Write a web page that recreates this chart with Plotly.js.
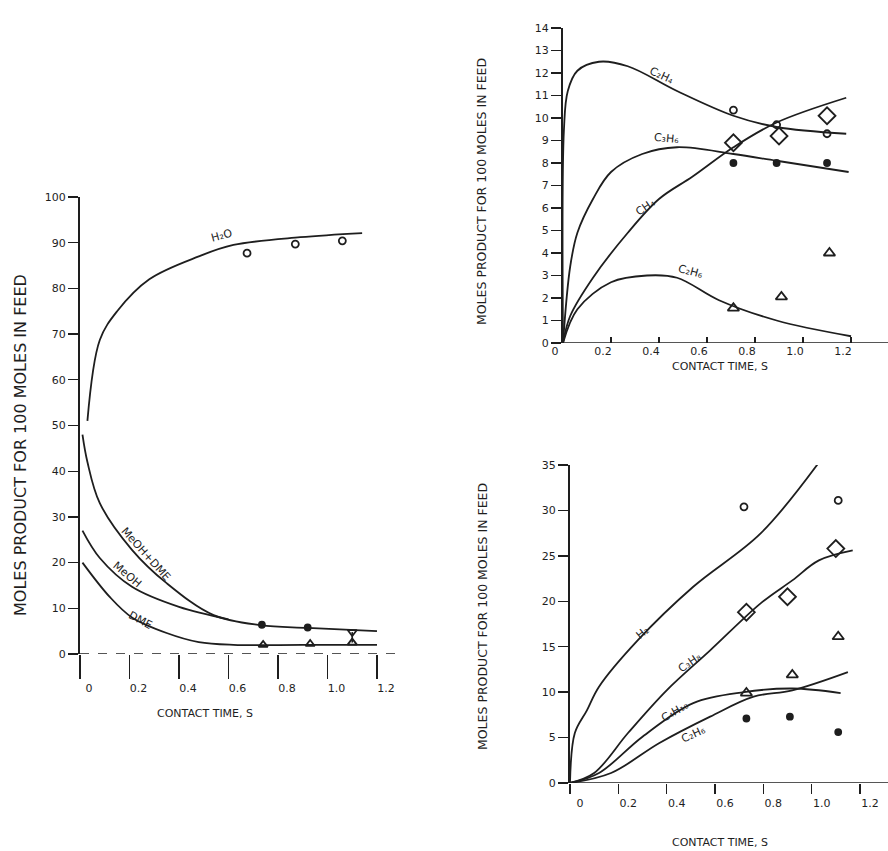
<!DOCTYPE html>
<html>
<head>
<meta charset="utf-8">
<script src="https://cdn.plot.ly/plotly-3.0.1.min.js"></script>
<style>html,body{margin:0;padding:0;background:#fff;}#chart{width:888px;height:851px;}</style>
</head>
<body>
<div id="chart"></div>
<script>
// ---------- Left panel: methanol conversion ----------
const h2oX = [0.03, 0.08, 0.15, 0.28, 0.48, 0.62, 0.89, 1.14];
const h2oY = [51, 68.7, 75, 82, 87, 89.5, 91.2, 92.1];
const h2oPtsX = [0.675, 0.87, 1.06];
const h2oPtsY = [87.7, 89.7, 90.4];

const meohDmeX = [0.01, 0.03, 0.08, 0.21, 0.35, 0.54, 0.73, 0.92, 1.2];
const meohDmeY = [48, 42, 33, 22.8, 15.5, 8.5, 6.3, 5.7, 5.0];
const meohX = [0.01, 0.08, 0.21, 0.40, 0.60];
const meohY = [27, 21, 14.7, 10.3, 7.6];
const dmeX = [0.01, 0.12, 0.21, 0.35, 0.48, 0.62, 0.9, 1.2];
const dmeY = [20, 12.5, 8.0, 4.6, 2.6, 2.0, 2.0, 2.0];
const meohPtsX = [0.735, 0.92];
const meohPtsY = [6.4, 5.8];
const dmePtsX = [0.74, 0.93, 1.1];
const dmePtsY = [2.0, 2.2, 2.5];
const meohDmeTriX = [1.1];
const meohDmeTriY = [4.8];

// ---------- Top-right panel ----------
const c2h4X = [0.0, 0.004, 0.02, 0.06, 0.15, 0.27, 0.475, 0.71, 0.89, 1.18];
const c2h4Y = [0.0, 9.5, 11.2, 12.1, 12.5, 12.3, 11.2, 10.1, 9.6, 9.3];
const c2h4PtsX = [0.71, 0.89, 1.1];
const c2h4PtsY = [10.35, 9.7, 9.3];

const c3h6X = [0.0, 0.03, 0.06, 0.125, 0.2, 0.33, 0.475, 0.71, 0.89, 1.19];
const c3h6Y = [0.0, 3.4, 4.9, 6.4, 7.6, 8.4, 8.7, 8.4, 8.1, 7.6];
const c3h6PtsX = [0.71, 0.89, 1.1];
const c3h6PtsY = [8.0, 8.0, 8.0];

const ch4X = [0.0, 0.03, 0.125, 0.27, 0.4, 0.54, 0.71, 0.89, 1.18];
const ch4Y = [0.0, 1.2, 2.9, 4.9, 6.4, 7.4, 8.7, 9.8, 10.9];
const ch4PtsX = [0.71, 0.9, 1.1];
const ch4PtsY = [8.9, 9.2, 10.1];

const c2h6X = [0.0, 0.06, 0.2, 0.35, 0.475, 0.65, 0.89, 1.2];
const c2h6Y = [0.0, 1.5, 2.7, 3.0, 2.9, 1.9, 1.0, 0.3];
const c2h6PtsX = [0.71, 0.91, 1.11];
const c2h6PtsY = [1.55, 2.05, 4.0];

// ---------- Bottom-right panel ----------
const h2X = [0.0, 0.02, 0.07, 0.12, 0.28, 0.51, 0.79, 1.05];
const h2Y = [0.0, 5.5, 8.0, 10.6, 15.7, 21.6, 27.5, 36.0];
const h2PtsX = [0.72, 0.9, 1.11];
const h2PtsY = [30.4, 35.5, 31.1];

const c3h8X = [0.0, 0.1, 0.24, 0.4, 0.58, 0.79, 0.92, 1.03, 1.17];
const c3h8Y = [0.0, 1.1, 5.5, 10.2, 14.6, 19.8, 22.3, 24.5, 25.6];
const c3h8PtsX = [0.73, 0.9, 1.1];
const c3h8PtsY = [18.8, 20.5, 25.8];

const c4h10X = [0.0, 0.12, 0.3, 0.51, 0.72, 0.92, 1.12];
const c4h10Y = [0.0, 1.1, 5.1, 8.8, 10.0, 10.4, 9.9];
const c4h10PtsX = [0.73, 0.92, 1.11];
const c4h10PtsY = [9.9, 11.9, 16.1];

const c2h6bX = [0.0, 0.17, 0.37, 0.58, 0.76, 0.92, 1.15];
const c2h6bY = [0.0, 1.1, 4.4, 7.3, 9.5, 10.2, 12.2];
const c2h6bPtsX = [0.73, 0.91, 1.11];
const c2h6bPtsY = [7.1, 7.3, 5.6];

// tick labels
const timeTicks = [0, 0.2, 0.4, 0.6, 0.8, 1.0, 1.2];
const timeTickText = ['0', '0.2', '0.4', '0.6', '0.8', '1.0', '1.2'];
const leftYTicks = [0, 10, 20, 30, 40, 50, 60, 70, 80, 90, 100];
const trYTicks = [0, 1, 2, 3, 4, 5, 6, 7, 8, 9, 10, 11, 12, 13, 14];
const brYTicks = [0, 5, 10, 15, 20, 25, 30, 35];

const INK = '#1e1e1e';
const W = 888, H = 851;
function line(x, y, xa, ya) {
  return {x: x, y: y, xaxis: xa, yaxis: ya, mode: 'lines', type: 'scatter',
          line: {color: INK, width: 1.8, shape: 'spline', smoothing: 1.0},
          hoverinfo: 'skip', showlegend: false};
}
function pts(x, y, xa, ya, sym, size) {
  return {x: x, y: y, xaxis: xa, yaxis: ya, mode: 'markers', type: 'scatter',
          marker: {symbol: sym, size: size || 8, color: INK, line: {color: INK, width: 1.8}},
          hoverinfo: 'skip', showlegend: false};
}

const data = [
  line(h2oX, h2oY, 'x', 'y'),
  line(meohDmeX, meohDmeY, 'x', 'y'),
  line(meohX, meohY, 'x', 'y'),
  line(dmeX, dmeY, 'x', 'y'),
  pts(h2oPtsX, h2oPtsY, 'x', 'y', 'circle-open', 7),
  pts(meohPtsX, meohPtsY, 'x', 'y', 'circle', 6),
  pts(dmePtsX, dmePtsY, 'x', 'y', 'triangle-up-open', 8),
  pts(meohDmeTriX, meohDmeTriY, 'x', 'y', 'triangle-down-open', 8),

  line(c2h4X, c2h4Y, 'x2', 'y2'),
  line(c3h6X, c3h6Y, 'x2', 'y2'),
  line(ch4X, ch4Y, 'x2', 'y2'),
  line(c2h6X, c2h6Y, 'x2', 'y2'),
  pts(c2h4PtsX, c2h4PtsY, 'x2', 'y2', 'circle-open', 7),
  pts(c3h6PtsX, c3h6PtsY, 'x2', 'y2', 'circle', 6),
  pts(ch4PtsX, ch4PtsY, 'x2', 'y2', 'diamond-open', 13),
  pts(c2h6PtsX, c2h6PtsY, 'x2', 'y2', 'triangle-up-open', 10),

  line(h2X, h2Y, 'x3', 'y3'),
  line(c3h8X, c3h8Y, 'x3', 'y3'),
  line(c4h10X, c4h10Y, 'x3', 'y3'),
  line(c2h6bX, c2h6bY, 'x3', 'y3'),
  pts(h2PtsX, h2PtsY, 'x3', 'y3', 'circle-open', 7),
  pts(c3h8PtsX, c3h8PtsY, 'x3', 'y3', 'diamond-open', 13),
  pts(c4h10PtsX, c4h10PtsY, 'x3', 'y3', 'triangle-up-open', 10),
  pts(c2h6bPtsX, c2h6bPtsY, 'x3', 'y3', 'circle', 6)
];

const FONT = {family: 'DejaVu Sans, sans-serif', size: 11, color: INK};
function xAx(dom, rng, ticks, len, shift, anchor) {
  return {domain: dom, range: rng, anchor: anchor, tickvals: timeTicks, ticktext: timeTickText,
          ticks: ticks, ticklen: len, tickwidth: 1.3, tickcolor: INK,
          ticklabelshift: shift, showline: false, showgrid: false, zeroline: false,
          tickfont: FONT, fixedrange: true};
}
function yAx(dom, rng, vals, anchor) {
  return {domain: dom, range: rng, anchor: anchor, tickvals: vals,
          ticks: 'outside', ticklen: 10, tickwidth: 1.3, tickcolor: INK,
          showline: true, linecolor: INK, linewidth: 2, showgrid: false, zeroline: false,
          tickfont: FONT, fixedrange: true};
}
function lab(xr, yr, x, y, text, ang) {
  return {xref: xr, yref: yr, x: x, y: y, text: text, textangle: ang, showarrow: false,
          xanchor: 'center', yanchor: 'middle', font: FONT};
}
function title(x, y, text, ang, size) {
  return {xref: 'paper', yref: 'paper', x: x / W, y: 1 - y / H, text: text, textangle: ang,
          showarrow: false, xanchor: 'center', yanchor: 'middle',
          font: {family: 'DejaVu Sans, sans-serif', size: size, color: INK}};
}

const layout = {
  width: W, height: H,
  margin: {l: 0, r: 0, t: 0, b: 0},
  paper_bgcolor: '#ffffff', plot_bgcolor: 'rgba(0,0,0,0)',
  font: FONT, showlegend: false,
  xaxis: xAx([80 / W, 400 / W], [0, 1.293], 'outside', 24, 9, 'y'),
  yaxis: yAx([1 - 654 / H, 1 - 197 / H], [0, 100], leftYTicks, 'x'),
  xaxis2: xAx([563 / W, 1], [0, 1.354], 'inside', 6, -8, 'y2'),
  yaxis2: yAx([1 - 343 / H, 1 - 28 / H], [0, 14], trYTicks, 'x2'),
  xaxis3: xAx([570 / W, 1], [0, 1.316], 'outside', 10, 10, 'y3'),
  yaxis3: yAx([1 - 783 / H, 1 - 465 / H], [0, 35], brYTicks, 'x3'),
  shapes: [
    {type: 'line', xref: 'paper', yref: 'y', x0: 80 / W, x1: 400 / W, y0: 0, y1: 0,
     line: {color: INK, width: 1.3, dash: 'dash'}},
    {type: 'line', xref: 'x', yref: 'y', x0: 0, x1: 0, y0: 0, y1: -8,
     line: {color: INK, width: 2}},
    {type: 'line', xref: 'paper', yref: 'y2', x0: 563 / W, x1: 1, y0: 0, y1: 0,
     line: {color: INK, width: 1.6}},
    {type: 'line', xref: 'paper', yref: 'y3', x0: 570 / W, x1: 1, y0: 0, y1: 0,
     line: {color: INK, width: 1.6}},
    {type: 'line', xref: 'x3', yref: 'y3', x0: 0, x1: 0, y0: 35, y1: 38,
     line: {color: INK, width: 2}},
    {type: 'line', xref: 'x', yref: 'y', x0: 1.1, x1: 1.1, y0: 2.5, y1: 4.8,
     line: {color: INK, width: 1.6}}
  ],
  annotations: [
    // curve labels
    lab('x', 'y', 0.574, 91.5, 'H₂O', -15),
    lab('x', 'y', 0.263, 21.9, 'MeOH+DME', 48),
    lab('x', 'y', 0.19, 17.5, 'MeOH', 40),
    lab('x', 'y', 0.246, 7.4, 'DME', 28),
    lab('x2', 'y2', 0.41, 11.87, 'C₂H₄', 25),
    lab('x2', 'y2', 0.433, 9.11, 'C₃H₆', 5),
    lab('x2', 'y2', 0.342, 6.04, 'CH₄', -35),
    lab('x2', 'y2', 0.53, 3.16, 'C₂H₆', 15),
    lab('x3', 'y3', 0.302, 16.6, 'H₂', -40),
    lab('x3', 'y3', 0.496, 13.3, 'C₃H₈', -35),
    lab('x3', 'y3', 0.434, 7.9, 'C₄H₁₀', -30),
    lab('x3', 'y3', 0.509, 5.3, 'C₂H₆', -25),
    // axis titles
    title(20, 445, 'MOLES PRODUCT FOR 100 MOLES IN FEED', -90, 16),
    title(205, 713, 'CONTACT TIME, S', 0, 11),
    title(482, 192, 'MOLES PRODUCT FOR 100 MOLES IN FEED', -90, 12.5),
    title(720, 367, 'CONTACT TIME, S', 0, 11),
    title(482, 617, 'MOLES PRODUCT FOR 100 MOLES IN FEED', -90, 12.5),
    title(720, 842, 'CONTACT TIME, S', 0, 11)
  ]
};

Plotly.newPlot('chart', data, layout, {staticPlot: true, displayModeBar: false});
</script>
</body>
</html>
